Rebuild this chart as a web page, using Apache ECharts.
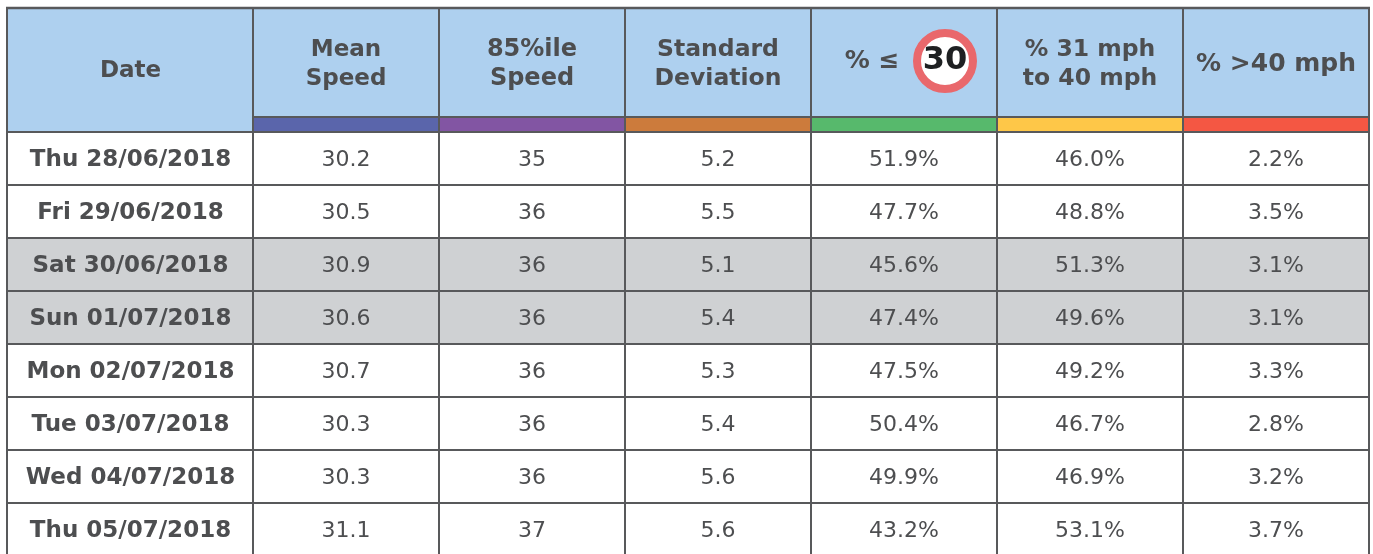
<!DOCTYPE html>
<html><head><meta charset="utf-8">
<style>html,body{margin:0;padding:0;background:#fff}#c{width:1373px;height:554px}</style>
<script src="https://cdn.jsdelivr.net/npm/echarts@6/dist/echarts.min.js"></script>
</head><body><div id="c"></div>
<script>
// ---- data ----
const dates = ['Thu 28/06/2018','Fri 29/06/2018','Sat 30/06/2018','Sun 01/07/2018','Mon 02/07/2018','Tue 03/07/2018','Wed 04/07/2018','Thu 05/07/2018'];
const meanSpeed = ['30.2','30.5','30.9','30.6','30.7','30.3','30.3','31.1'];
const speed85 = ['35','36','36','36','36','36','36','37'];
const stdDev = ['5.2','5.5','5.1','5.4','5.3','5.4','5.6','5.6'];
const pctUnder30 = ['51.9%','47.7%','45.6%','47.4%','47.5%','50.4%','49.9%','43.2%'];
const pct31to40 = ['46.0%','48.8%','51.3%','49.6%','49.2%','46.7%','46.9%','53.1%'];
const pctOver40 = ['2.2%','3.5%','3.1%','3.1%','3.3%','2.8%','3.2%','3.7%'];
const headers = ['Date','Mean\nSpeed','85%ile\nSpeed','Standard\nDeviation','% \u2264','% 31 mph\nto 40 mph','% >40 mph'];
const weekendRows = [2,3];
const barColors = ['#5A65AB','#8255A3','#CC7B3C','#57B96C','#FEC748','#F45743'];

// ---- table layout (axis units) ----
const colEdges = [7,253,439,625,811,997,1183,1369];
const tableTop = 8, barTop = 117, headBottom = 132, rowH = 53;
const headSizes = [23,23,24,23.5,25,23.5,25];
const TEXT = '#4D4E50', LINE = '#58595B', HEAD = '#AED0EF', GREY = '#CFD1D3';
const FONT = '"DejaVu Sans", Verdana, sans-serif';
const columns = [dates, meanSpeed, speed85, stdDev, pctUnder30, pct31to40, pctOver40];

function rect(api, x0, y0, x1, y1, fill){
  const a = api.coord([x0,y0]), b = api.coord([x1,y1]);
  return {type:'rect', shape:{x:a[0],y:a[1],width:b[0]-a[0],height:b[1]-a[1]}, style:{fill}};
}
function txt(api, x, y, text, size, weight){
  const p = api.coord([x,y]);
  return {type:'text', x:p[0], y:p[1], style:{text, fill:TEXT, font:`${weight} ${size}px ${FONT}`, align:'center', verticalAlign:'middle', lineHeight:29}};
}
function line(api, x0, y0, x1, y1, w, color){
  const a = api.coord([x0,y0]), b = api.coord([x1,y1]);
  return {type:'line', shape:{x1:a[0],y1:a[1],x2:b[0],y2:b[1]}, style:{stroke:color||LINE, lineWidth:w}};
}

const bodyData = [];
dates.forEach((d,r)=>columns.forEach((c,k)=>bodyData.push([k,r,c[r]])));

const option = {
  animation:false,
  grid:{left:0,right:0,top:0,bottom:0},
  xAxis:{type:'value',min:0,max:1373,show:false},
  yAxis:{type:'value',min:0,max:554,inverse:true,show:false},
  series:[
    { // header
      type:'custom', coordinateSystem:'cartesian2d', clip:true, silent:true,
      data:headers.map((h,i)=>[i,h]),
      renderItem(p,api){
        const k = api.value(0), h = headers[k];
        const x0 = colEdges[k], x1 = colEdges[k+1], cx=(x0+x1)/2;
        const kids = [];
        kids.push(rect(api,x0,tableTop,x1,headBottom,HEAD));
        if(k>0) kids.push(rect(api,x0,barTop,x1,headBottom,barColors[k-1]));
        if(k===0){
          kids.push(txt(api,cx+0.5,71.5,h,headSizes[k],'bold'));
        } else if(k===4){
          kids.push(txt(api,872,61,h,headSizes[k],'bold'));
          const c = api.coord([945,61]);
          kids.push({type:'circle',shape:{cx:c[0],cy:c[1],r:28},style:{fill:'#fff',stroke:'#E9686C',lineWidth:8}});
          kids.push({type:'text',x:c[0],y:c[1],style:{text:'30',fill:'#1E2022',font:`bold 32px ${FONT}`,align:'center',verticalAlign:'middle'}});
        } else {
          kids.push(txt(api,cx,64.5,h,headSizes[k],'bold'));
        }
        return {type:'group',children:kids};
      }
    },
    { // body cells
      type:'custom', coordinateSystem:'cartesian2d', clip:true, silent:true,
      data:bodyData,
      renderItem(p,api){
        const k = api.value(0), r = api.value(1);
        const t = bodyData[p.dataIndex][2];
        const x0 = colEdges[k], x1 = colEdges[k+1], y0 = headBottom+r*rowH;
        const kids = [rect(api,x0,y0,x1,y0+rowH,weekendRows.includes(r)?GREY:'#fff')];
        kids.push(txt(api,k===0?(x0+x1)/2+0.5:(x0+x1)/2,y0+28,t,k===0?23:22,k===0?'bold':'normal'));
        return {type:'group',children:kids};
      }
    },
    { // rules
      type:'custom', coordinateSystem:'cartesian2d', clip:true, silent:true, z:5,
      data:[[0]],
      renderItem(p,api){
        const kids=[];
        colEdges.forEach(x=>kids.push(line(api,x,tableTop,x,554,2)));
        kids.push(line(api,6,tableTop,1370,tableTop,2.5));
        kids.push(line(api,colEdges[1],barTop,colEdges[7],barTop,2));
        kids.push(line(api,6,barTop,8,barTop,2));
        dates.forEach((d,r)=>kids.push(line(api,6,headBottom+r*rowH,1370,headBottom+r*rowH,2)));
        return {type:'group',children:kids};
      }
    }
  ]
};
const chart = echarts.init(document.getElementById('c'),null,{renderer:'canvas'});
chart.setOption(option);
</script></body></html>
